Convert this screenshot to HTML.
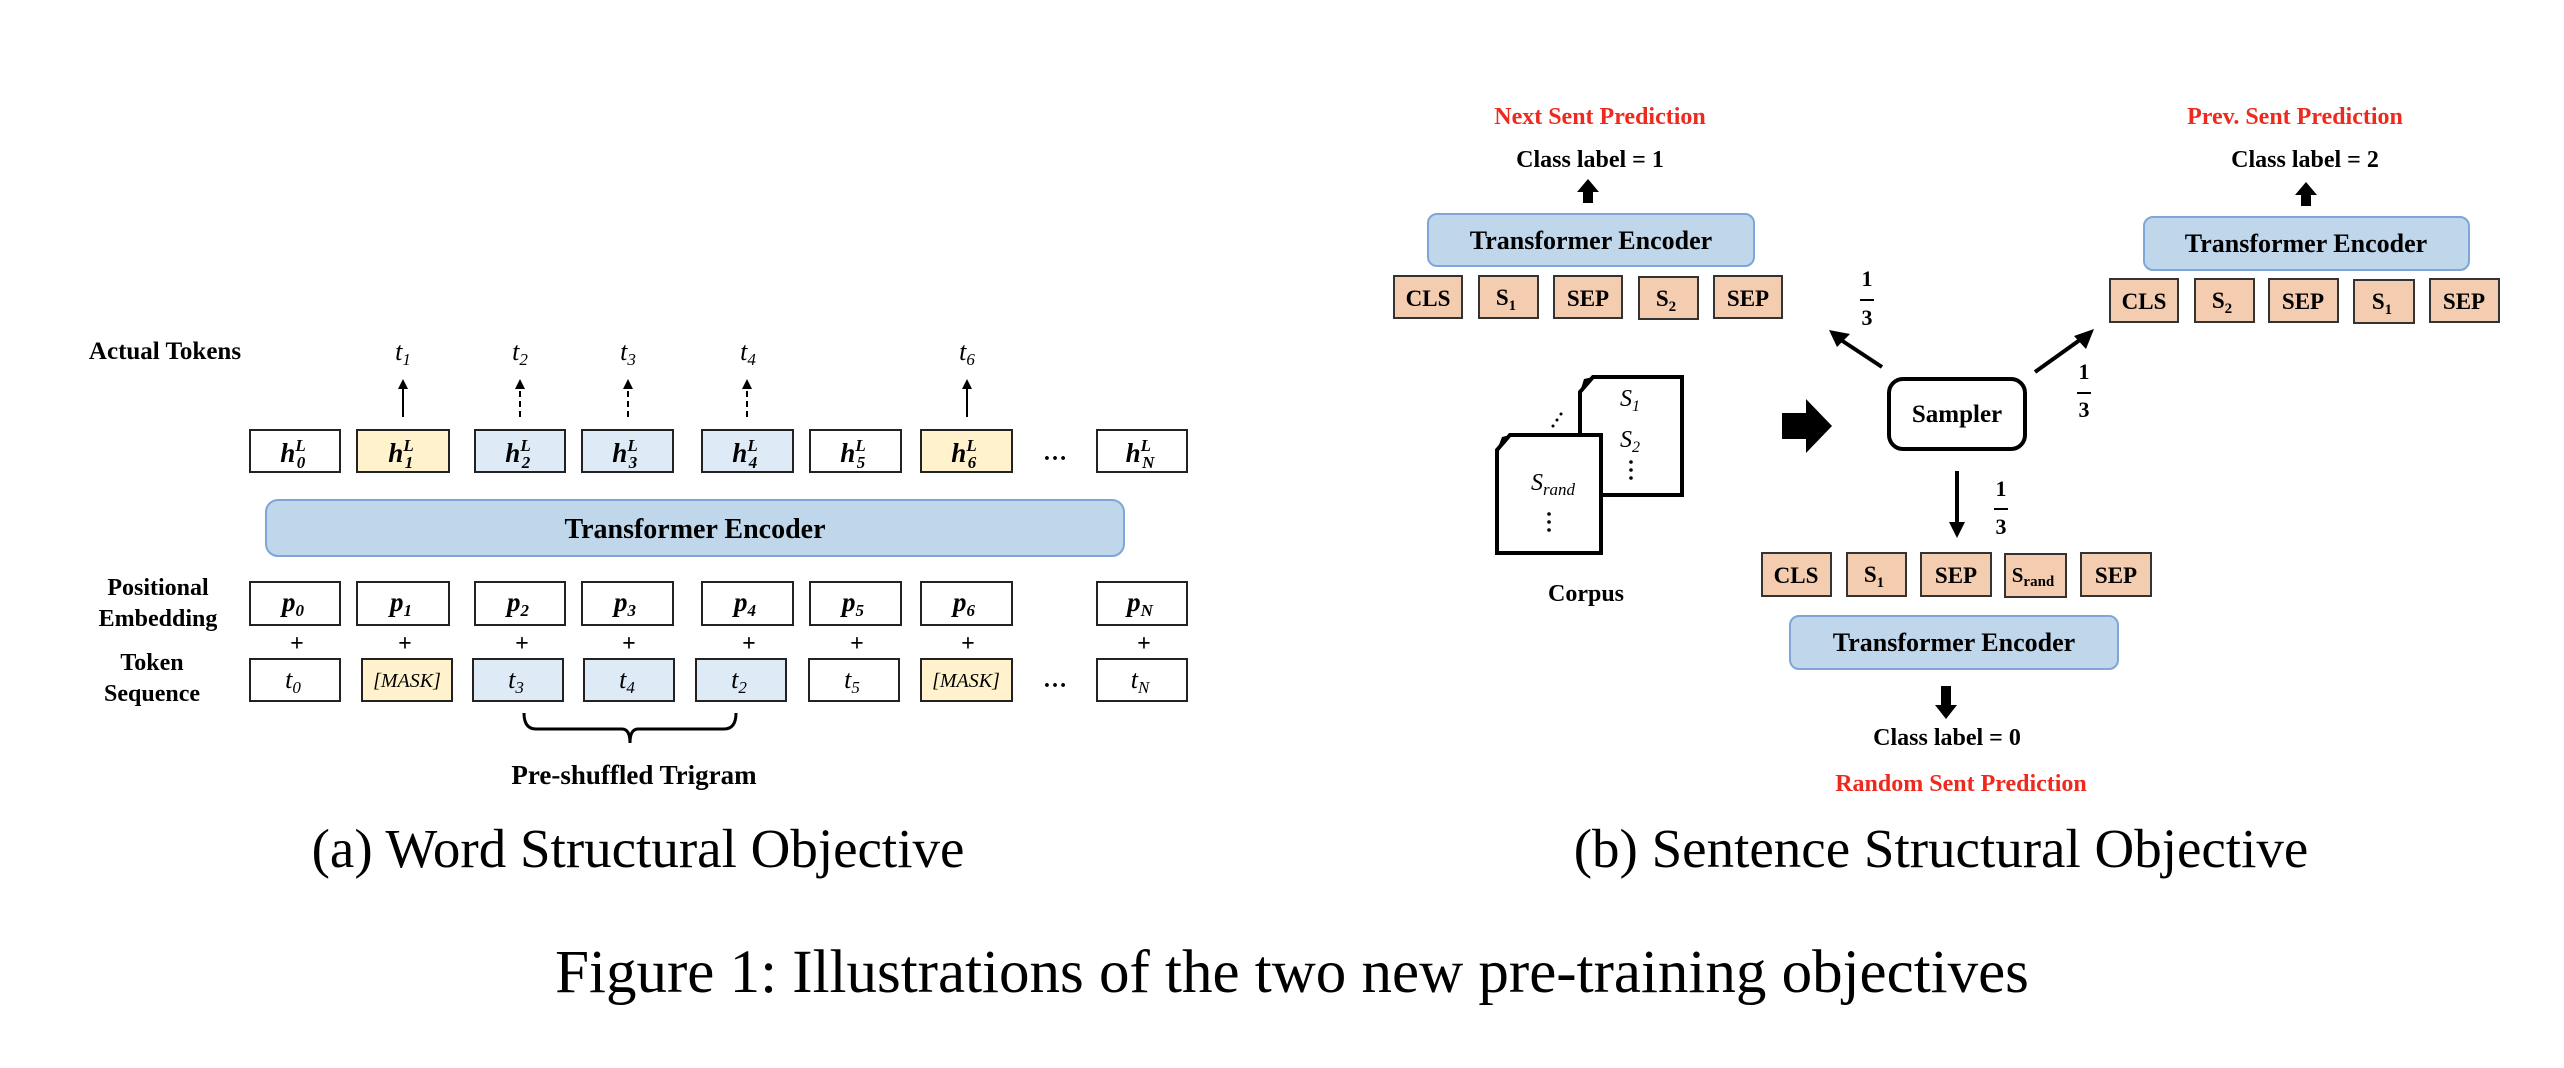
<!DOCTYPE html>
<html><head><meta charset="utf-8"><style>
html,body{margin:0;padding:0;background:#fff;}
svg{display:block;}
text{font-family:"Liberation Serif",serif;}
.b{font-weight:bold;}
</style></head><body>
<svg width="2564" height="1068" viewBox="0 0 2564 1068" xmlns="http://www.w3.org/2000/svg">
<defs>
<marker id="ah" markerWidth="10" markerHeight="10" refX="5" refY="5" orient="auto" markerUnits="userSpaceOnUse"><path d="M0,0 L10,5 L0,10 z" fill="#000"/></marker>
</defs>
<!-- LEFT PANEL -->
<text x="165" y="359" class="b" font-size="25" text-anchor="middle">Actual Tokens</text>
<g font-size="26" font-style="italic" text-anchor="middle">
<text x="403" y="360">t<tspan font-size="17" dy="5">1</tspan></text>
<text x="520" y="360">t<tspan font-size="17" dy="5">2</tspan></text>
<text x="628" y="360">t<tspan font-size="17" dy="5">3</tspan></text>
<text x="748" y="360">t<tspan font-size="17" dy="5">4</tspan></text>
<text x="967" y="360">t<tspan font-size="17" dy="5">6</tspan></text>
</g>
<g stroke="#000" stroke-width="2">
<line x1="403" y1="417" x2="403" y2="384" marker-end="url(#ah)"/>
<line x1="520" y1="417" x2="520" y2="384" stroke-dasharray="6,4" marker-end="url(#ah)"/>
<line x1="628" y1="417" x2="628" y2="384" stroke-dasharray="6,4" marker-end="url(#ah)"/>
<line x1="747" y1="417" x2="747" y2="384" stroke-dasharray="6,4" marker-end="url(#ah)"/>
<line x1="967" y1="417" x2="967" y2="384" marker-end="url(#ah)"/>
</g>
<!-- h row -->
<g stroke="#222" stroke-width="2">
<rect x="250" y="430" width="90" height="42" fill="#fff"/>
<rect x="357" y="430" width="92" height="42" fill="#fff2cc"/>
<rect x="475" y="430" width="90" height="42" fill="#deebf7"/>
<rect x="582" y="430" width="91" height="42" fill="#deebf7"/>
<rect x="702" y="430" width="91" height="42" fill="#deebf7"/>
<rect x="810" y="430" width="91" height="42" fill="#fff"/>
<rect x="921" y="430" width="91" height="42" fill="#fff2cc"/>
<rect x="1097" y="430" width="90" height="42" fill="#fff"/>
</g>
<g font-size="27" font-style="italic" font-weight="bold" text-anchor="middle">
<text x="293" y="462">h<tspan font-size="17" dy="-11">L</tspan><tspan font-size="17" dx="-9" dy="17">0</tspan></text>
<text x="401" y="462">h<tspan font-size="17" dy="-11">L</tspan><tspan font-size="17" dx="-9" dy="17">1</tspan></text>
<text x="518" y="462">h<tspan font-size="17" dy="-11">L</tspan><tspan font-size="17" dx="-9" dy="17">2</tspan></text>
<text x="625" y="462">h<tspan font-size="17" dy="-11">L</tspan><tspan font-size="17" dx="-9" dy="17">3</tspan></text>
<text x="745" y="462">h<tspan font-size="17" dy="-11">L</tspan><tspan font-size="17" dx="-9" dy="17">4</tspan></text>
<text x="853" y="462">h<tspan font-size="17" dy="-11">L</tspan><tspan font-size="17" dx="-9" dy="17">5</tspan></text>
<text x="964" y="462">h<tspan font-size="17" dy="-11">L</tspan><tspan font-size="17" dx="-9" dy="17">6</tspan></text>
<text x="1140" y="462">h<tspan font-size="17" dy="-11">L</tspan><tspan font-size="17" dx="-9" dy="17">N</tspan></text>
</g>
<text x="1055" y="460" font-size="24" class="b" text-anchor="middle">…</text>
<rect x="266" y="500" width="858" height="56" rx="12" fill="#c0d6ea" stroke="#7ea6d8" stroke-width="2"/>
<text x="695" y="538" class="b" font-size="28" text-anchor="middle">Transformer Encoder</text>
<!-- p row -->
<text x="158" y="595" class="b" font-size="24" text-anchor="middle">Positional</text>
<text x="158" y="626" class="b" font-size="24" text-anchor="middle">Embedding</text>
<g stroke="#222" stroke-width="2" fill="#fff">
<rect x="250" y="582" width="90" height="43"/>
<rect x="357" y="582" width="92" height="43"/>
<rect x="475" y="582" width="90" height="43"/>
<rect x="582" y="582" width="91" height="43"/>
<rect x="702" y="582" width="91" height="43"/>
<rect x="810" y="582" width="91" height="43"/>
<rect x="921" y="582" width="91" height="43"/>
<rect x="1097" y="582" width="90" height="43"/>
</g>
<g font-size="27" font-style="italic" font-weight="bold" text-anchor="middle">
<text x="293" y="611">p<tspan font-size="17" dy="5">0</tspan></text>
<text x="401" y="611">p<tspan font-size="17" dy="5">1</tspan></text>
<text x="518" y="611">p<tspan font-size="17" dy="5">2</tspan></text>
<text x="625" y="611">p<tspan font-size="17" dy="5">3</tspan></text>
<text x="745" y="611">p<tspan font-size="17" dy="5">4</tspan></text>
<text x="853" y="611">p<tspan font-size="17" dy="5">5</tspan></text>
<text x="964" y="611">p<tspan font-size="17" dy="5">6</tspan></text>
<text x="1140" y="611">p<tspan font-size="17" dy="5">N</tspan></text>
</g>
<g font-size="24" class="b" text-anchor="middle">
<text x="297" y="651">+</text><text x="405" y="651">+</text><text x="522" y="651">+</text><text x="629" y="651">+</text>
<text x="749" y="651">+</text><text x="857" y="651">+</text><text x="968" y="651">+</text><text x="1144" y="651">+</text>
</g>
<text x="152" y="670" class="b" font-size="24" text-anchor="middle">Token</text>
<text x="152" y="701" class="b" font-size="24" text-anchor="middle">Sequence</text>
<g stroke="#222" stroke-width="2">
<rect x="250" y="659" width="90" height="42" fill="#fff"/>
<rect x="362" y="659" width="90" height="42" fill="#fff2cc"/>
<rect x="473" y="659" width="90" height="42" fill="#deebf7"/>
<rect x="584" y="659" width="90" height="42" fill="#deebf7"/>
<rect x="696" y="659" width="90" height="42" fill="#deebf7"/>
<rect x="809" y="659" width="90" height="42" fill="#fff"/>
<rect x="921" y="659" width="91" height="42" fill="#fff2cc"/>
<rect x="1097" y="659" width="90" height="42" fill="#fff"/>
</g>
<g font-size="26" font-style="italic" text-anchor="middle">
<text x="293" y="688">t<tspan font-size="17" dy="5">0</tspan></text>
<text x="407" y="687" font-size="20">[MASK]</text>
<text x="516" y="688">t<tspan font-size="17" dy="5">3</tspan></text>
<text x="627" y="688">t<tspan font-size="17" dy="5">4</tspan></text>
<text x="739" y="688">t<tspan font-size="17" dy="5">2</tspan></text>
<text x="852" y="688">t<tspan font-size="17" dy="5">5</tspan></text>
<text x="966" y="687" font-size="20">[MASK]</text>
<text x="1140" y="688">t<tspan font-size="17" dy="5">N</tspan></text>
</g>
<text x="1055" y="687" font-size="24" class="b" text-anchor="middle">…</text>
<path d="M524,713 Q524,729 536,729 L622,729 Q630,729 630,743 Q630,729 638,729 L724,729 Q736,729 736,713" fill="none" stroke="#000" stroke-width="3"/>
<text x="634" y="784" class="b" font-size="27" text-anchor="middle">Pre-shuffled Trigram</text>
<text x="638" y="867" font-size="55" text-anchor="middle">(a) Word Structural Objective</text>

<!-- RIGHT PANEL -->
<g class="b" font-size="24" fill="#ee2a1e" text-anchor="middle">
<text x="1600" y="124">Next Sent Prediction</text>
<text x="2295" y="124">Prev. Sent Prediction</text>
<text x="1961" y="791">Random Sent Prediction</text>
</g>
<g class="b" font-size="24" text-anchor="middle">
<text x="1590" y="167">Class label = 1</text>
<text x="2305" y="167">Class label = 2</text>
<text x="1947" y="745">Class label = 0</text>
<text x="1586" y="601">Corpus</text>
</g>
<!-- fat arrows -->
<path d="M1583,203 L1583,192 L1577,192 L1588,179 L1599,192 L1593,192 L1593,203 z" fill="#000"/>
<path d="M2301,206 L2301,195 L2295,195 L2306,182 L2317,195 L2311,195 L2311,206 z" fill="#000"/>
<path d="M1941,686 L1951,686 L1951,705 L1957,705 L1946,719 L1935,705 L1941,705 z" fill="#000"/>
<path d="M1782,413 L1806,413 L1806,399 L1832,426 L1806,453 L1806,439 L1782,439 z" fill="#000"/>
<!-- TE boxes -->
<g fill="#c0d6ea" stroke="#7ea6d8" stroke-width="2">
<rect x="1428" y="214" width="326" height="52" rx="9"/>
<rect x="2144" y="217" width="325" height="53" rx="9"/>
<rect x="1790" y="616" width="328" height="53" rx="9"/>
</g>
<g class="b" font-size="26" text-anchor="middle">
<text x="1591" y="249">Transformer Encoder</text>
<text x="2306" y="252">Transformer Encoder</text>
<text x="1954" y="651">Transformer Encoder</text>
</g>
<!-- tokens -->
<g fill="#f4cdb0" stroke="#333" stroke-width="2">
<rect x="1394" y="276" width="68" height="42"/><rect x="1479" y="276" width="59" height="42"/><rect x="1554" y="276" width="68" height="42"/><rect x="1639" y="277" width="59" height="42"/><rect x="1714" y="276" width="68" height="42"/>
<rect x="2110" y="279" width="68" height="43"/><rect x="2195" y="279" width="59" height="43"/><rect x="2269" y="279" width="69" height="43"/><rect x="2354" y="280" width="60" height="43"/><rect x="2430" y="279" width="69" height="43"/>
<rect x="1762" y="553" width="69" height="43"/><rect x="1847" y="553" width="59" height="43"/><rect x="1921" y="553" width="70" height="43"/><rect x="2005" y="554" width="61" height="43"/><rect x="2081" y="553" width="70" height="43"/>
</g>
<g class="b" font-size="23" text-anchor="middle">
<text x="1428" y="306">CLS</text><text x="1506" y="305">S<tspan font-size="15" dy="5">1</tspan></text><text x="1588" y="306">SEP</text><text x="1666" y="306">S<tspan font-size="15" dy="5">2</tspan></text><text x="1748" y="306">SEP</text>
<text x="2144" y="309">CLS</text><text x="2222" y="308">S<tspan font-size="15" dy="5">2</tspan></text><text x="2303" y="309">SEP</text><text x="2382" y="309">S<tspan font-size="15" dy="5">1</tspan></text><text x="2464" y="309">SEP</text>
<text x="1796" y="583">CLS</text><text x="1874" y="582">S<tspan font-size="15" dy="5">1</tspan></text><text x="1956" y="583">SEP</text><text x="2033" y="582" font-size="21">S<tspan font-size="15" dy="4">rand</tspan></text><text x="2116" y="583">SEP</text>
</g>
<!-- Sampler -->
<rect x="1889" y="379" width="136" height="70" rx="14" fill="#fff" stroke="#000" stroke-width="4"/>
<text x="1957" y="422" class="b" font-size="25" text-anchor="middle">Sampler</text>
<g stroke="#000" stroke-width="4" fill="none">
<line x1="1882" y1="367" x2="1838" y2="338"/>
<line x1="2035" y1="372" x2="2084" y2="337"/>
<line x1="1957" y1="471" x2="1957" y2="525"/>
</g>
<path d="M1829,330 L1850,334 L1837,347 z" fill="#000"/>
<path d="M2094,329 L2086,349 L2074,336 z" fill="#000"/>
<path d="M1949,522 L1965,522 L1957,538 z" fill="#000"/>
<g class="b" font-size="22" text-anchor="middle">
<text x="1867" y="286">1</text><line x1="1860" y1="300" x2="1874" y2="300" stroke="#000" stroke-width="2"/><text x="1867" y="325">3</text>
<text x="2084" y="379">1</text><line x1="2077" y1="393" x2="2091" y2="393" stroke="#000" stroke-width="2"/><text x="2084" y="417">3</text>
<text x="2001" y="496">1</text><line x1="1994" y1="509" x2="2008" y2="509" stroke="#000" stroke-width="2"/><text x="2001" y="534">3</text>
</g>
<!-- documents -->
<path d="M1593,377 L1682,377 L1682,495 L1580,495 L1580,392 z" fill="#fff" stroke="#000" stroke-width="4"/>
<path d="M1580,392 L1584,379 L1593,377 L1588,385 z" fill="#000"/>
<path d="M1510,435 L1601,435 L1601,553 L1497,553 L1497,450 z" fill="#fff" stroke="#000" stroke-width="4"/>
<path d="M1497,450 L1502,437 L1510,435 L1505,443 z" fill="#000"/>
<g font-size="24" font-style="italic" text-anchor="middle">
<text x="1630" y="406">S<tspan font-size="16" dy="5">1</tspan></text>
<text x="1630" y="447">S<tspan font-size="16" dy="5">2</tspan></text>
<text x="1553" y="490">S<tspan font-size="17" dy="5">rand</tspan></text>
</g>
<g fill="#000">
<circle cx="1631" cy="462" r="1.8"/><circle cx="1631" cy="470" r="1.8"/><circle cx="1631" cy="478" r="1.8"/>
<circle cx="1549" cy="514" r="1.8"/><circle cx="1549" cy="522" r="1.8"/><circle cx="1549" cy="530" r="1.8"/>
<circle cx="1553" cy="426" r="1.5"/><circle cx="1557" cy="420" r="1.5"/><circle cx="1561" cy="414" r="1.5"/>
</g>
<text x="1941" y="867" font-size="55" text-anchor="middle">(b) Sentence Structural Objective</text>
<text x="1292" y="992" font-size="61" text-anchor="middle">Figure 1: Illustrations of the two new pre-training objectives</text>
</svg>
</body></html>
